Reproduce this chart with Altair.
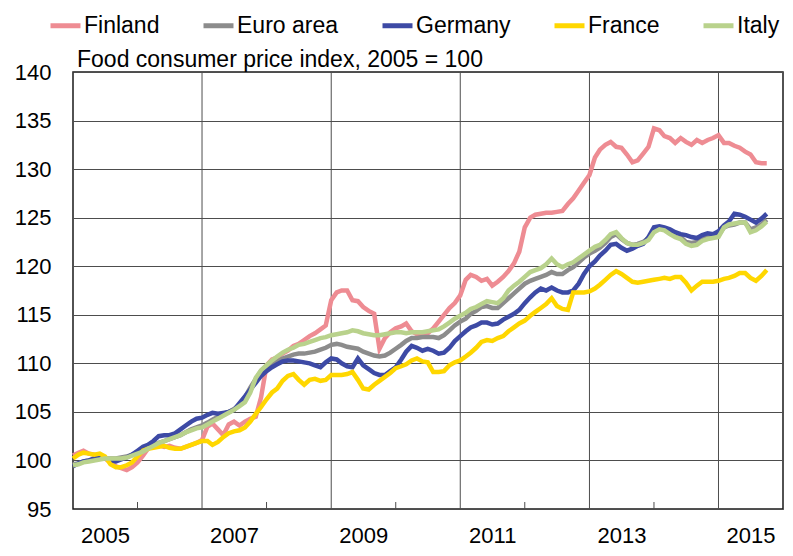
import altair as alt
import pandas as pd

countries = ["Finland", "Euro area", "Germany", "France", "Italy"]
colors = ["#EE8C93", "#8C8C8C", "#3D4AA5", "#FFD700", "#B9D28C"]

finland = [
    100.5, 100.8, 101.0, 100.7, 100.6, 100.3, 100.2, 99.8, 99.4, 99.2, 99.0, 99.3,
    99.8, 100.5, 101.2, 101.5, 101.6, 101.4, 101.5, 101.3, 101.2, 101.4, 101.6, 101.8,
    102.1, 103.5, 103.8, 103.2, 102.6, 103.7, 104.0, 103.6, 104.0, 104.3, 104.5, 106.5,
    109.8, 110.4, 110.6, 111.0, 111.3, 111.8, 112.0, 112.4, 112.8, 113.1, 113.5, 113.9,
    116.5, 117.3, 117.5, 117.5, 116.5, 116.4, 115.8, 115.4, 115.1, 111.5, 112.6, 113.2,
    113.6, 113.8, 114.1, 113.3, 113.0, 112.9, 113.1, 113.6, 114.3, 115.0, 115.7, 116.2,
    117.0, 118.6, 119.1, 118.9, 118.5, 118.7, 118.0, 118.4, 118.9, 119.5, 120.3, 121.5,
    124.0, 125.0, 125.3, 125.4, 125.5, 125.5, 125.6, 125.7, 126.4, 127.0, 127.8, 128.6,
    129.4, 131.2, 132.0, 132.5, 132.8, 132.3, 132.2, 131.5, 130.7, 130.9, 131.6, 132.3,
    134.2, 134.0, 133.4, 133.2, 132.7, 133.2, 132.8, 132.5, 133.0, 132.7, 133.0, 133.2,
    133.5, 132.7, 132.7, 132.4, 132.2, 131.8, 131.5, 130.7, 130.6, 130.6,
]
euro_area = [
    99.6, 99.7, 99.9, 100.0, 100.1, 100.2, 100.2, 100.2, 100.2, 100.3, 100.4, 100.6,
    100.8, 101.0, 101.3, 101.6, 101.8, 102.0, 102.2, 102.4, 102.6, 102.9, 103.2, 103.4,
    103.6, 103.9, 104.2, 104.5, 104.8, 105.0, 105.3, 105.7, 106.5, 107.5, 108.4, 109.2,
    109.7, 110.0, 110.2, 110.5, 110.7, 110.9, 111.0, 111.0, 111.1, 111.2, 111.4, 111.6,
    111.9, 112.0, 111.9, 111.7, 111.6, 111.5, 111.2, 111.0, 110.8, 110.7, 110.8, 111.1,
    111.5, 111.9, 112.3, 112.6, 112.6, 112.7, 112.7, 112.7, 112.6, 112.9, 113.4, 113.9,
    114.3, 114.6, 115.1, 115.4, 115.8, 115.9, 115.7, 115.7, 116.2, 116.7, 117.2, 117.7,
    118.2, 118.5, 118.7, 118.9, 119.1, 119.4, 119.2, 119.2, 119.6, 119.9, 120.4, 120.9,
    121.3, 121.6, 121.9, 122.4, 123.0, 123.3, 122.8, 122.4, 122.2, 122.3, 122.5, 122.9,
    123.6, 124.0, 123.8, 123.5, 123.2, 123.0, 122.5, 122.4, 122.5, 122.8, 123.0, 123.1,
    123.2, 124.0, 124.2, 124.3, 124.5, 124.5, 123.8, 124.0, 124.3, 124.8,
]
germany = [
    99.4, 99.7, 99.9, 100.0, 100.2, 100.3, 100.2, 100.0, 99.9, 100.1, 100.3, 100.6,
    101.0, 101.4, 101.6, 102.0, 102.5, 102.6, 102.6, 102.8, 103.2, 103.6, 104.0, 104.3,
    104.4, 104.7, 104.9, 104.8, 104.9, 105.0, 105.2, 105.9, 106.6, 107.3, 108.0, 108.7,
    109.2, 109.6, 109.9, 110.2, 110.3, 110.3, 110.2, 110.1, 110.0, 109.8, 109.6, 110.1,
    110.5, 110.4, 110.0, 109.7, 109.6, 110.5, 109.8, 109.4, 109.0, 108.8, 108.8, 109.2,
    109.6, 110.4, 111.2, 111.8, 111.6, 111.3, 111.5, 111.3, 111.0, 111.1, 111.6, 112.3,
    112.8, 113.3, 113.7, 113.9, 114.2, 114.2, 114.0, 114.1, 114.5, 114.8, 115.1, 115.5,
    116.2, 116.8, 117.3, 117.7, 117.5, 117.8, 117.5, 117.3, 117.3, 117.5, 118.2, 119.2,
    120.0, 120.5, 121.1, 121.6, 122.2, 122.3, 121.9, 121.6, 121.8, 122.1, 122.3, 123.0,
    124.0, 124.1, 124.0, 123.8, 123.5, 123.3, 123.2, 123.0, 122.9, 123.2, 123.4, 123.3,
    123.6, 124.2, 124.6, 125.4, 125.3, 125.1, 124.8, 124.5, 124.9, 125.4,
]
france = [
    100.2, 100.6, 100.8, 100.7, 100.6, 100.7, 100.4, 99.6, 99.3, 99.3, 99.5, 99.8,
    100.4, 101.0, 101.2, 101.3, 101.4, 101.5, 101.3, 101.2, 101.2, 101.4, 101.6, 101.8,
    102.0, 102.0, 101.6, 101.9, 102.4, 102.8, 103.0, 103.1, 103.4, 104.0, 104.8, 105.5,
    106.3, 107.0, 107.4, 108.2, 108.7, 108.9, 108.3, 107.8, 108.3, 108.4, 108.2, 108.3,
    108.8, 108.8, 108.8, 108.9, 109.1, 108.3, 107.4, 107.3, 107.8, 108.2, 108.6, 109.0,
    109.5, 109.7, 109.9, 110.3, 110.5, 110.2, 110.1, 109.1, 109.1, 109.2, 109.8, 110.1,
    110.3, 110.7, 111.1, 111.6, 112.2, 112.4, 112.3, 112.6, 112.8, 113.3, 113.7, 114.1,
    114.4, 114.9, 115.3, 115.7, 116.1, 116.7, 115.9, 115.6, 115.5, 117.3, 117.3, 117.3,
    117.4, 117.7, 118.1, 118.6, 119.1, 119.5, 119.2, 118.8, 118.4, 118.3, 118.4, 118.5,
    118.6, 118.7, 118.8, 118.7, 118.9, 118.9, 118.3, 117.5, 118.0, 118.4, 118.4, 118.4,
    118.5, 118.7, 118.8, 119.0, 119.3, 119.3, 118.8, 118.5, 119.0, 119.6,
]
italy = [
    99.5, 99.6, 99.8, 99.9, 100.0, 100.1, 100.2, 100.2, 100.2, 100.2, 100.3, 100.5,
    100.7, 100.9, 101.2, 101.5, 101.8, 102.0, 102.2, 102.4, 102.6, 102.9, 103.1, 103.3,
    103.4, 103.7, 104.0, 104.3, 104.6, 104.9, 105.2, 105.6, 106.0, 107.0, 108.5, 109.3,
    109.8, 110.3, 110.7, 111.1, 111.4, 111.6, 111.9, 112.0, 112.2, 112.4, 112.6, 112.7,
    112.9, 113.0, 113.1, 113.2, 113.4, 113.3, 113.1, 113.0, 112.9, 112.9, 113.0, 113.1,
    113.2, 113.2, 113.1, 113.2, 113.2, 113.2, 113.3, 113.4, 113.5, 113.8, 114.2, 114.6,
    114.9, 115.2, 115.6, 115.8, 116.1, 116.4, 116.3, 116.2, 116.7, 117.5, 118.0, 118.4,
    118.9, 119.4, 119.6, 119.8, 120.2, 120.8, 120.2, 119.9, 120.2, 120.4, 120.8, 121.2,
    121.6, 122.0, 122.2, 122.7, 123.3, 123.5, 122.9, 122.4, 122.2, 122.2, 122.4, 122.7,
    123.5, 123.8, 123.7, 123.3, 123.0, 122.8, 122.3, 122.1, 122.2, 122.6, 122.8, 122.9,
    123.0, 124.0, 124.3, 124.4, 124.5, 124.5, 123.5, 123.7, 124.1, 124.6,
]

subtitle = "Food consumer price index, 2005 = 100"
label_years = [2005, 2007, 2009, 2011, 2013, 2015]
grid_years = [2007, 2009, 2011, 2013, 2015]
minor_years = [2006, 2008, 2010, 2012, 2014]
y_ticks = [95, 100, 105, 110, 115, 120, 125, 130, 135, 140]

FONT = "Liberation Sans"
GRID = "#4D4D4D"

series = dict(zip(countries, [finland, euro_area, germany, france, italy]))
rows = []
for name, vals in series.items():
    dates = pd.date_range("2005-01-01", periods=len(vals), freq="MS")
    for d, v in zip(dates, vals):
        rows.append({"date": d.strftime("%Y-%m-%dT00:00:00"), "country": name, "value": v})
df = pd.DataFrame(rows)

grid_df = pd.DataFrame({"date": [f"{y}-01-01T00:00:00" for y in grid_years]})
minor_df = pd.DataFrame({"date": [f"{y}-01-01T00:00:00" for y in minor_years]})

x_scale = alt.Scale(domain=[alt.DateTime(year=2005, month=1, date=1),
                            alt.DateTime(year=2016, month=1, date=1)])
x_axis = alt.Axis(values=[alt.DateTime(year=y, month=7, date=1) for y in label_years],
                  format="%Y", grid=False, ticks=False, domain=False, title=None,
                  labelPadding=16, labelFontSize=22, labelFont=FONT, labelColor="black")
x_enc = alt.X("date:T", scale=x_scale, axis=x_axis)

y_scale = alt.Scale(domain=[95, 140], nice=False, zero=False)
y_axis = alt.Axis(values=y_ticks, grid=True, gridColor=GRID, gridWidth=1, ticks=False,
                  domain=False, title=None, labelPadding=22, labelFontSize=22,
                  labelFont=FONT, labelColor="black")

legend = alt.Legend(orient="none", legendX=-25, legendY=-64, direction="horizontal",
                    columns=5, title=None, symbolType="stroke", symbolStrokeWidth=5,
                    symbolSize=900, labelFontSize=23, labelFont=FONT, labelColor="black",
                    labelOffset=1, columnPadding=33, padding=0)
color_enc = alt.Color("country:N", scale=alt.Scale(domain=countries, range=colors),
                      legend=legend)

grid = alt.Chart(grid_df).mark_rule(color=GRID, strokeWidth=1).encode(x=x_enc)
minor = alt.Chart(minor_df).mark_rule(color=GRID, strokeWidth=1).encode(
    x=x_enc, y=alt.value(437), y2=alt.value(430))

line_layers = []
for name in countries:
    line_layers.append(
        alt.Chart(df).transform_filter(alt.datum.country == name)
        .mark_line(strokeWidth=4.5)
        .encode(x=x_enc, y=alt.Y("value:Q", scale=y_scale, axis=y_axis), color=color_enc)
    )

sub = alt.Chart(pd.DataFrame({"t": [subtitle]})).mark_text(
    align="left", baseline="alphabetic", fontSize=23, font=FONT, color="black"
).encode(x=alt.value(4), y=alt.value(-5), text="t:N")

chart = alt.layer(grid, minor, *line_layers, sub).properties(
    width=710, height=437,
    autosize=alt.AutoSizeParams(type="none"),
    padding={"left": 65, "top": 64, "right": 2, "bottom": 39},
).configure_view(stroke="#1a1a1a", strokeWidth=1.5)

chart.save("out.html", embed_options={"renderer": "svg", "actions": False})
